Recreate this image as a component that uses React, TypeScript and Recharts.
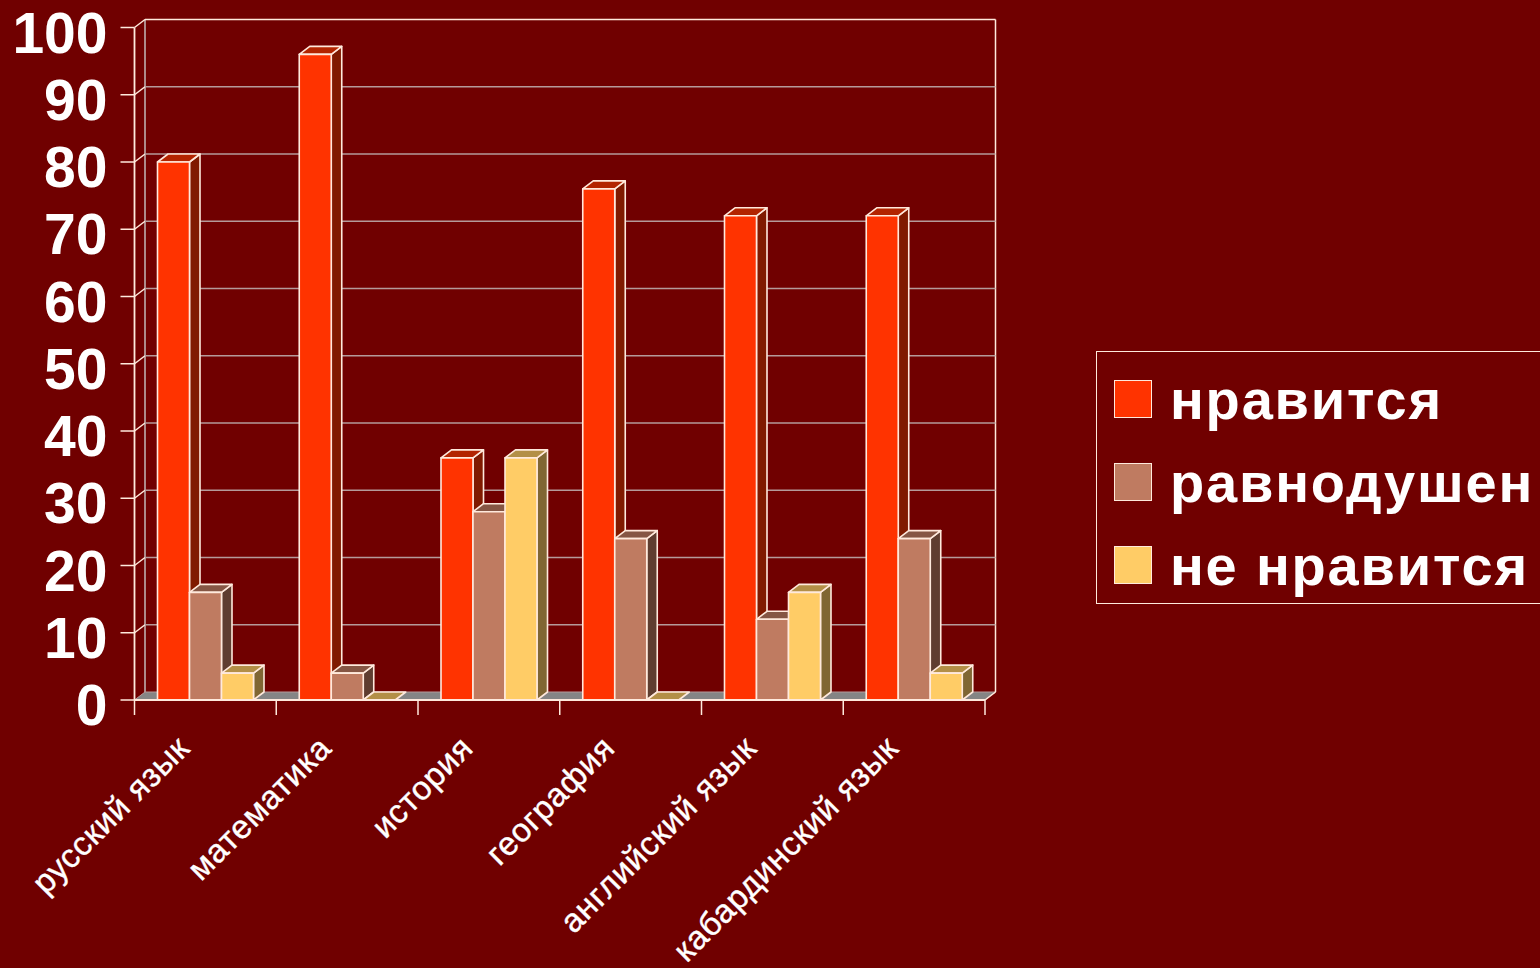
import React from 'react';
import { ComposedChart, Bar, XAxis, YAxis, CartesianGrid, Legend } from 'recharts';

const categories = ['русский язык', 'математика', 'история', 'география', 'английский язык', 'кабардинский язык'];
const likes = [80, 96, 36, 76, 72, 72];
const neutral = [16, 4, 28, 24, 12, 24];
const dislikes = [4, 0, 36, 0, 16, 4];
const yTicks = [0, 10, 20, 30, 40, 50, 60, 70, 80, 90, 100];
const seriesNames = ['нравится', 'равнодушен', 'не нравится'];

const rows = categories.map((name, i) => ({ name, likes: likes[i], neutral: neutral[i], dislikes: dislikes[i] }));

const BG = '#700000';
const DX = 10.5;
const DY = 8;
const PLOT_LEFT = 134.5;
const PLOT_RIGHT = 985;
const PLOT_TOP = 27.5;
const PLOT_BOTTOM = 700;
const BAND = (PLOT_RIGHT - PLOT_LEFT) / categories.length;
const EDGE = '#FFE9DC';
const GRID = '#B59A9A';
const FONT = '"Liberation Sans", Arial, sans-serif';

const palette = [
  { front: '#FF3300', top: '#B32400', side: '#801A00' },
  { front: '#BF7B61', top: '#865644', side: '#5F3D30' },
  { front: '#FFCC66', top: '#B38F47', side: '#806633' },
];

const box3d = (tone: { front: string; top: string; side: string }) => (p: any) => {
  const { x, y, width, height } = p;
  const r = x + width;
  const b = y + height;
  return (
    <g stroke={EDGE} strokeWidth={1.6} strokeLinejoin="round">
      {height > 0 && (
        <polygon points={`${r},${y} ${r + DX},${y - DY} ${r + DX},${b - DY} ${r},${b}`} fill={tone.side} />
      )}
      <polygon points={`${x},${y} ${x + DX},${y - DY} ${r + DX},${y - DY} ${r},${y}`} fill={tone.top} />
      {height > 0 && <rect x={x} y={y} width={width} height={height} fill={tone.front} />}
    </g>
  );
};

const gridLine = (p: any) => {
  const { x1, x2, y1, key } = p;
  const isFloor = Math.abs(y1 - PLOT_BOTTOM) < 1;
  const isTop = Math.abs(y1 - PLOT_TOP) < 1;
  if (isFloor) {
    return (
      <g key={key}>
        <polygon
          points={`${x1},${y1} ${x1 + DX},${y1 - DY} ${x2 + DX},${y1 - DY} ${x2},${y1}`}
          fill="#858585"
          stroke={GRID}
          strokeWidth={1}
        />
        <line x1={x1 + DX} x2={x1 + DX} y1={PLOT_TOP - DY} y2={y1 - DY} stroke={GRID} strokeWidth={1.8} />
        <line x1={x2 + DX} x2={x2 + DX} y1={PLOT_TOP - DY} y2={y1 - DY} stroke={EDGE} strokeWidth={1.5} />
        <line x1={x2} x2={x2 + DX} y1={y1} y2={y1 - DY} stroke={EDGE} strokeWidth={1.5} />
      </g>
    );
  }
  return (
    <g key={key}>
      <line x1={x1} x2={x1 + DX} y1={y1} y2={y1 - DY} stroke={EDGE} strokeWidth={1.5} />
      <line x1={x1 + DX} x2={x2 + DX} y1={y1 - DY} y2={y1 - DY} stroke={isTop ? EDGE : GRID} strokeWidth={1.5} />
    </g>
  );
};

const yTick = (p: any) => (
  <text x={p.x + 1} y={p.y + 25} textAnchor="end" fill="#FFFFFF" fontFamily={FONT} fontWeight={700} fontSize={57}>
    {p.payload.value}
  </text>
);

const xTick = (p: any) => {
  const { x, y, index, payload } = p;
  const left = x - BAND / 2;
  const lx = x - 14;
  const ly = y + 42;
  return (
    <g>
      <line x1={left} x2={left} y1={PLOT_BOTTOM} y2={PLOT_BOTTOM + 15} stroke={EDGE} strokeWidth={1.5} />
      {index === categories.length - 1 && (
        <line x1={left + BAND} x2={left + BAND} y1={PLOT_BOTTOM} y2={PLOT_BOTTOM + 15} stroke={EDGE} strokeWidth={1.5} />
      )}
      <text
        x={lx}
        y={ly}
        textAnchor="end"
        fill="#FFFFFF"
        stroke="#FFFFFF"
        strokeWidth={0.4}
        fontFamily={FONT}
        fontSize={33}
        letterSpacing={0.6}
        transform={`rotate(-45 ${lx} ${ly})`}
      >
        {payload.value}
      </text>
    </g>
  );
};

const legendContent = () => (
  <div
    style={{
      boxSizing: 'border-box',
      width: 444,
      height: 253,
      border: `1px solid ${EDGE}`,
      borderRight: 'none',
      position: 'relative',
      fontFamily: FONT,
      fontWeight: 700,
      color: '#FFFFFF',
      fontSize: 56,
      whiteSpace: 'nowrap',
    }}
  >
    {seriesNames.map((n, i) => (
      <div key={n} style={{ position: 'absolute', left: 0, top: 28 + i * 83, height: 40, lineHeight: '40px' }}>
        <span
          style={{
            position: 'absolute',
            left: 17,
            top: 0,
            width: 38,
            height: 38,
            boxSizing: 'border-box',
            background: palette[i].front,
            border: `1px solid ${EDGE}`,
          }}
        />
        <span style={{ position: 'absolute', left: 73, top: 0, letterSpacing: 1.8 }}>{n}</span>
      </div>
    ))}
  </div>
);

export default function App() {
  return (
    <div style={{ position: 'absolute', left: 0, top: 0, width: 1540, height: 968, background: BG, overflow: 'hidden' }}>
      <ComposedChart
        width={1540}
        height={968}
        data={rows}
        barGap={0}
        barCategoryGap={23}
        margin={{ top: PLOT_TOP, right: 111, bottom: 0, left: 0 }}
      >
        <CartesianGrid horizontal={gridLine} vertical={false} />
        <XAxis
          dataKey="name"
          height={968 - PLOT_BOTTOM}
          interval={0}
          tickLine={false}
          axisLine={{ stroke: EDGE, strokeWidth: 1.8 }}
          tick={xTick}
        />
        <YAxis
          width={PLOT_LEFT}
          domain={[0, 100]}
          ticks={yTicks}
          interval={0}
          tickSize={14}
          tickMargin={14}
          tickLine={{ stroke: EDGE, strokeWidth: 1.5 }}
          axisLine={{ stroke: EDGE, strokeWidth: 1.8 }}
          tick={yTick}
        />
        <Bar dataKey="likes" name={seriesNames[0]} fill={palette[0].front} shape={box3d(palette[0])} isAnimationActive={false} />
        <Bar dataKey="neutral" name={seriesNames[1]} fill={palette[1].front} shape={box3d(palette[1])} isAnimationActive={false} />
        <Bar dataKey="dislikes" name={seriesNames[2]} fill={palette[2].front} shape={box3d(palette[2])} isAnimationActive={false} />
        <Legend
          layout="vertical"
          align="right"
          verticalAlign="top"
          content={legendContent}
          wrapperStyle={{ top: 351, right: 0, width: 444 }}
        />
      </ComposedChart>
    </div>
  );
}
